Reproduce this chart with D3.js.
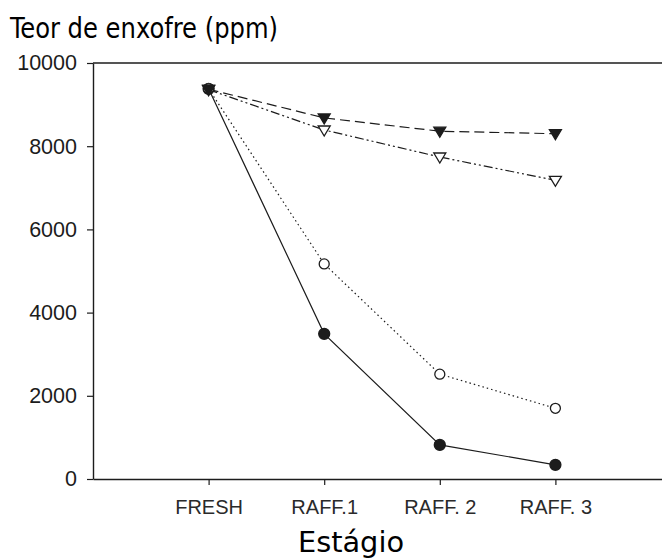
<!DOCTYPE html>
<html>
<head>
<meta charset="utf-8">
<script src="https://cdn.jsdelivr.net/npm/d3@7"></script>
<style>
  html, body { margin: 0; padding: 0; background: #fff; }
  svg { display: block; }
</style>
</head>
<body>
<svg id="chart" width="662" height="560"></svg>
<script>
const categories = ["FRESH", "RAFF.1", "RAFF. 2", "RAFF. 3"];
const yTicks = [0, 2000, 4000, 6000, 8000, 10000];
const filledTriangle = [9370, 8680, 8360, 8300];
const openTriangle = [9360, 8390, 7740, 7180];
const openCircle = [9380, 5170, 2520, 1700];
const filledCircle = [9380, 3490, 820, 340];
const titleText = "Teor de enxofre (ppm)";
const xTitleText = "Estágio";

const ink = "#1c1c1c";
const svg = d3.select("#chart");
const plotLeft = 93, plotTop = 63, plotBottom = 479, plotRightEnd = 671;

const x = d3.scalePoint().domain(categories).range([plotLeft, plotRightEnd]).padding(1);
const y = d3.scaleLinear().domain([0, 10000]).range([plotBottom, plotTop]);

// Top frame line
svg.append("line").attr("x1", plotLeft).attr("x2", plotRightEnd).attr("y1", plotTop).attr("y2", plotTop)
  .attr("stroke", ink).attr("stroke-width", 1.4);

// Y axis
const yAx = svg.append("g").attr("transform", `translate(${plotLeft},0)`)
  .call(d3.axisLeft(y).tickValues(yTicks).tickSize(6).tickSizeOuter(0).tickPadding(10).tickFormat(d3.format("d")));
yAx.select(".domain").attr("stroke", ink).attr("stroke-width", 1.4);
yAx.selectAll(".tick line").attr("stroke", ink).attr("stroke-width", 1.2);
yAx.selectAll("text").attr("font-family", "'Liberation Sans', Arial, sans-serif").attr("font-size", 21.5).attr("fill", ink);

// X axis
const xAx = svg.append("g").attr("transform", `translate(0,${plotBottom})`)
  .call(d3.axisBottom(x).tickSize(6).tickSizeOuter(0).tickPadding(15));
xAx.select(".domain").attr("stroke", ink).attr("stroke-width", 1.4);
xAx.selectAll(".tick line").attr("stroke", ink).attr("stroke-width", 1.2);
xAx.selectAll("text").attr("font-family", "'Liberation Sans', Arial, sans-serif").attr("font-size", 20).attr("fill", "#2a2a2a");

// Series
const series = [
  { values: filledCircle, dash: null, marker: "circle", fill: ink },
  { values: openCircle, dash: "1.5,3", marker: "circle", fill: "#fff" },
  { values: openTriangle, dash: "9,3,2,3,2,3", marker: "triangle", fill: "#fff" },
  { values: filledTriangle, dash: "10,5", marker: "triangle", fill: ink }
];
const line = d3.line().x((d, i) => x(categories[i])).y(d => y(d));

series.forEach(s => {
  svg.append("path").datum(s.values).attr("d", line)
    .attr("fill", "none").attr("stroke", ink).attr("stroke-width", 1.2)
    .attr("stroke-dasharray", s.dash);
});
series.forEach(s => {
  const g = svg.append("g");
  s.values.forEach((v, i) => {
    const cx = x(categories[i]), cy = y(v);
    if (s.marker === "circle") {
      g.append("circle").attr("cx", cx).attr("cy", cy).attr("r", s.fill === ink ? 5.5 : 5)
        .attr("fill", s.fill).attr("stroke", ink).attr("stroke-width", 1.3);
    } else {
      g.append("path").attr("transform", `translate(${cx},${cy})`)
        .attr("d", "M-6,-4L6,-4L0,6Z")
        .attr("fill", s.fill).attr("stroke", ink).attr("stroke-width", 1.3);
    }
  });
});

// Titles
svg.append("text").attr("x", 10).attr("y", 38)
  .attr("font-family", "Tahoma, 'DejaVu Sans Condensed', 'DejaVu Sans', sans-serif")
  .attr("font-size", 28).attr("fill", "#000")
  .attr("textLength", 268).attr("lengthAdjust", "spacingAndGlyphs")
  .text(titleText);

svg.append("text").attr("x", 298).attr("y", 552)
  .attr("font-family", "Tahoma, 'DejaVu Sans Condensed', 'DejaVu Sans', sans-serif")
  .attr("font-size", 28.5).attr("fill", "#000")
  .attr("textLength", 106).attr("lengthAdjust", "spacingAndGlyphs")
  .text(xTitleText);
</script>
</body>
</html>
